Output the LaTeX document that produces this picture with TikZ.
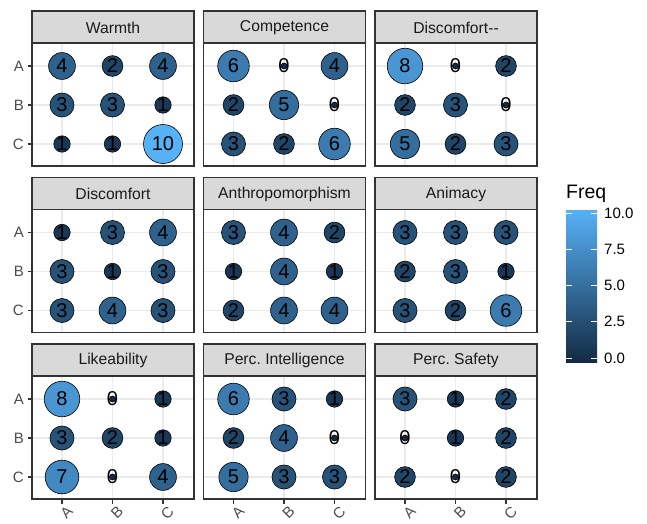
\documentclass[tikz,border=0pt]{standalone}
\usepackage{fontspec}
\setmainfont{Liberation Sans}
\frenchspacing
\definecolor{lo}{HTML}{132B43}
\definecolor{hi}{HTML}{56B1F7}
\definecolor{g10}{HTML}{1A1A1A}
\definecolor{g20}{HTML}{333333}
\definecolor{g30}{HTML}{4D4D4D}
\definecolor{g85}{HTML}{D9D9D9}
\definecolor{g92}{HTML}{EBEBEB}
\tikzset{
  bubble/.style={circle, draw=black, line width=0.6pt, inner sep=0pt},
  digit/.style={font=\fontsize{20}{20}\selectfont, text=black, inner sep=0pt},
  striptext/.style={font=\fontsize{15.7}{15.7}\selectfont, text=g10, inner sep=0pt},
  axlab/.style={font=\fontsize{15}{15}\selectfont, text=g30, inner sep=0pt},
  gridline/.style={g92, line width=1.1pt},
  frame/.style={g20, line width=1.1pt},
  tickline/.style={g20, line width=1.1pt},
  legtitle/.style={font=\fontsize{19.5}{19.5}\selectfont, text=black, inner sep=0pt},
  leglab/.style={font=\fontsize{15}{15}\selectfont, text=black, inner sep=0pt},
}
\newcommand\facet[5]{% #1 left, #2 top, #3 title, #4 values, #5 prefix
\begin{scope}[shift={(#1,#2)}]
  \fill[white] (0,32) rectangle (162,155);
  \foreach \gx in {30,80.5,131} \draw[gridline] (\gx,32) -- (\gx,155);
  \foreach \gy in {55,94,133} \draw[gridline] (0,\gy) -- (162,\gy);
  \foreach \v [count=\k from 0] in {#4} {
    \pgfmathtruncatemacro\col{mod(\k,3)}
    \pgfmathtruncatemacro\row{div(\k,3)}
    \pgfmathsetmacro\bx{30+50.5*\col}
    \pgfmathsetmacro\by{55+39*\row}
    \pgfmathsetmacro\dd{6+33*sqrt(\v/10)}
    \pgfmathtruncatemacro\pc{\v*10}
    \node[bubble, fill=hi!\pc!lo, minimum size=\dd pt] (#5b\k) at (\bx,\by) {};
    \node[digit] (#5d\k) at (#5b\k) {\v};
  }
  \draw[frame] (0,32) rectangle (162,155);
  \draw[frame, fill=g85] (0,0) rectangle (162,32);
  \node[striptext] (#5t) at (81,16.5) {#3};
\end{scope}}
\begin{document}
\begin{tikzpicture}[x=1pt, y=-1pt]
\useasboundingbox[fill=white] (0,0) rectangle (647,523);
\facet{32}{11}{Warmth}{4,2,4,3,3,1,1,1,10}{pa}
\facet{203.5}{11}{Competence}{6,0,4,2,5,0,3,2,6}{pb}
\facet{375}{11}{Discomfort-{}-}{8,0,2,2,3,0,5,2,3}{pc}
\facet{32}{177.5}{Discomfort}{1,3,4,3,1,3,3,4,3}{pd}
\facet{203.5}{177.5}{Anthropomorphism}{3,4,2,1,4,1,2,4,4}{pe}
\facet{375}{177.5}{Animacy}{3,3,3,2,3,1,3,2,6}{pf}
\facet{32}{344}{Likeability}{8,0,1,3,2,1,7,0,4}{pg}
\facet{203.5}{344}{Perc. Intelligence}{6,3,1,2,4,0,5,3,3}{ph}
\facet{375}{344}{Perc. Safety}{3,1,2,0,1,2,2,0,2}{pi}
% y axis labels
\foreach \top [count=\r] in {11,177.5,344} {
  \foreach \lab [count=\j from 0] in {A,B,C} {
    \pgfmathsetmacro\yy{\top+55+39*\j}
    \draw[tickline] (27.5,\yy) -- (32,\yy);
    \node[axlab, anchor=east] (yl\r\lab) at (24,\yy) {\lab};
  }
}
% x axis labels
\foreach \left [count=\c] in {32,203.5,375} {
  \foreach \lab [count=\j from 0] in {A,B,C} {
    \pgfmathsetmacro\xx{\left+30+50.5*\j}
    \draw[tickline] (\xx,499) -- (\xx,503.5);
    \node[axlab, anchor=north east, rotate=45] (xl\c\lab) at (\xx+4.5,505) {\lab};
  }
}
% legend
\node[legtitle, anchor=base west] (legt) at (566,198) {Freq};
\shade[bottom color=lo, top color=hi] (566,210) rectangle (597,362);
\foreach \v/\t in {0/0.0,2.5/2.5,5/5.0,7.5/7.5,10/10.0} {
  \pgfmathsetmacro\yy{358-14.5*\v}
  \draw[white, line width=0.8pt] (566,\yy) -- (572,\yy);
  \draw[white, line width=0.8pt] (591,\yy) -- (597,\yy);
  \node[leglab, anchor=west] (ll\t) at (604,\yy) {\t};
}
\end{tikzpicture}
\end{document}
